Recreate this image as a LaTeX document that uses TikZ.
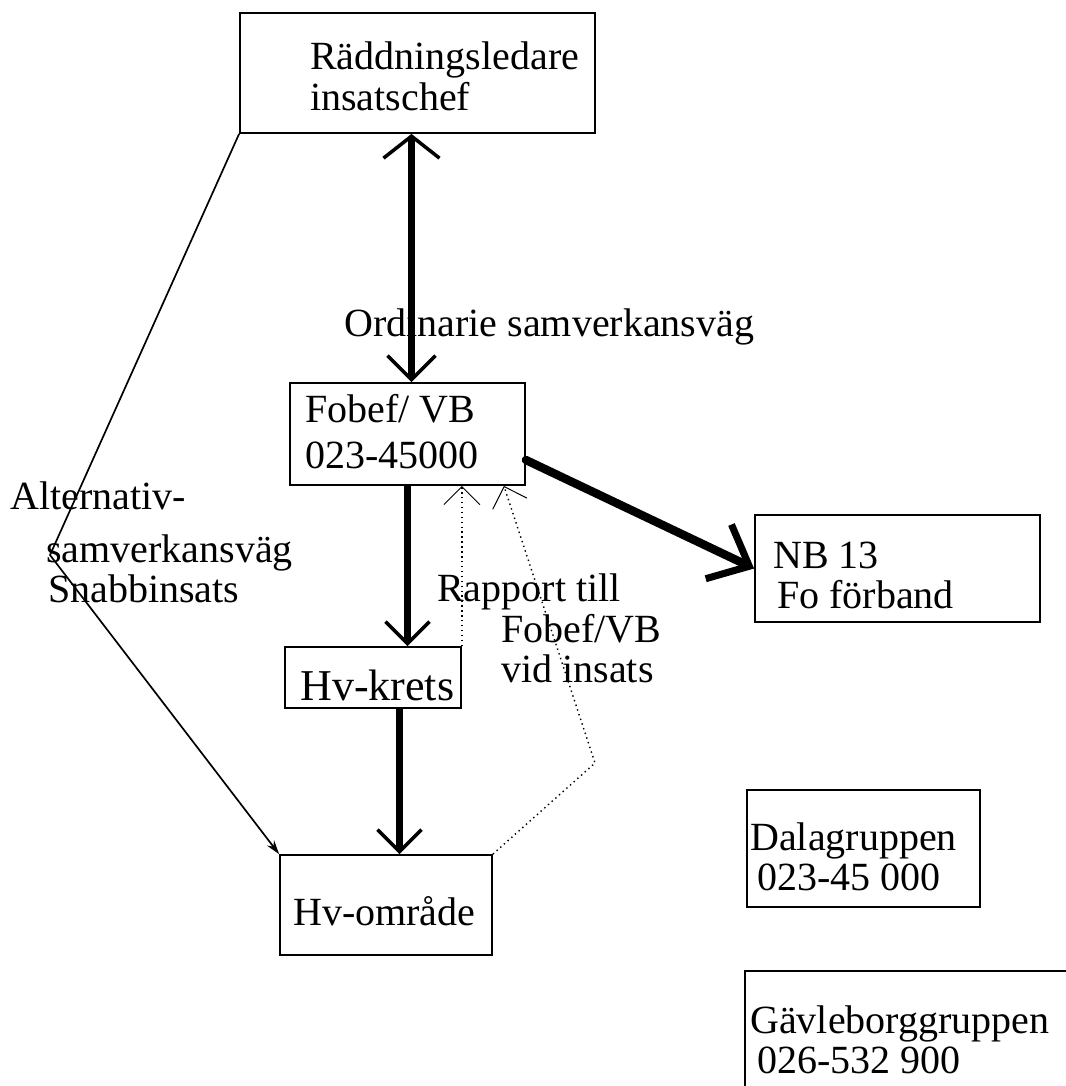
\documentclass[tikz,border=0pt]{standalone}
\usepackage{fontspec}
\setmainfont{Liberation Serif}
\usetikzlibrary{arrows.meta,calc,fit}

\tikzset{
  box/.style={draw, line width=1.3pt, inner sep=0pt},
  txt/.style={font=\fontsize{28.45}{28.45}\selectfont, align=left, inner sep=0pt, anchor=base west},
  mainarr/.style={line width=5.5pt, -{Straight Barb[length=0.55cm, width=1.1cm, line width=2.5pt]}},
  mainboth/.style={line width=5.5pt, {Straight Barb[length=0.6cm, width=1.2cm, line width=2.5pt]}-{Straight Barb[length=0.55cm, width=1.4cm, line width=2.5pt]}},
  nbarr/.style={line width=6pt, line cap=round, -{Straight Barb[length=0.85cm, width=1.5cm, line width=5pt]}},
  altarr/.style={line width=1.2pt, -{Stealth[length=0.35cm, width=0.22cm]}},
  rapparr/.style={line width=1pt, dash pattern=on 1pt off 2.5pt, -{Straight Barb[length=0.45cm, width=0.9cm, line width=0.7pt]}}
}

\begin{document}
\begin{tikzpicture}[x=0.025cm, y=-0.025cm]
\useasboundingbox (0,0) rectangle (1066,1086);
\clip (0,0) rectangle (1066,1086);

% boxes
\node[box, fit={(240,13) (595,133)}] (radd) {};
\node[box, fit={(290,383) (525,485)}] (fobef) {};
\node[box, fit={(755,515) (1040,622)}] (nb) {};
\node[box, fit={(285,647) (461,708)}] (krets) {};
\node[box, fit={(280,855) (492,955)}] (omr) {};
\node[box, fit={(747,790) (980,907)}] (dala) {};
\node[box, fit={(745,971) (1120,1140)}] (gavle) {};

% texts (multi-line ones sit on their last baseline)
\node[txt] (raddtxt) at (310,110) {Räddningsledare\\insatschef};
\node[txt] (fobeftxt) at (305,468) {Fobef/ VB\\[0.15cm]023-45000};
\node[txt] (nbtxt) at (773,608) {NB 13\\\hspace*{0.1cm}Fo förband};
\node[txt, font=\fontsize{31.3}{31.3}\selectfont] (kretstxt) at (300,700) {Hv-krets};
\node[txt] (omrtxt) at (293,925) {Hv-område};
\node[txt] (dalatxt) at (750,890) {Dalagruppen\\\hspace*{0.18cm}023-45 000};
\node[txt] (gavletxt) at (750,1073) {Gävleborggruppen\\\hspace*{0.18cm}026-532 900};
\node[txt] (ordtxt) at (344,336) {Ordinarie samverkansväg};
\node[txt] (alttxt) at (10,602) {Alternativ-\\[0.3cm]\hspace*{0.9cm}samverkansväg\\\hspace*{0.95cm}Snabbinsats};
\node[txt] (rapptxt) at (437,682) {Rapport till\\\hspace*{1.6cm}Fobef/VB\\\hspace*{1.6cm}vid insats};

% connectors
\coordinate (altbend) at (50,555);
\coordinate (rappbend) at (595,763);
\draw[mainboth] ([xshift=0.1cm]fobef.north) -- ([xshift=0.1cm]fobef.north |- radd.south);
\draw[mainarr] (fobef.south) -- (fobef.south |- krets.north);
\draw[mainarr] ([xshift=-0.2cm]fobef.south |- krets.south) -- ([xshift=-0.2cm]fobef.south |- omr.north);
\draw[nbarr] ([yshift=-0.65cm]fobef.east) -- (nb.west);
\draw[altarr] (radd.south west) -- (altbend) -- (omr.north west);
\draw[rapparr] (krets.north east) -- (krets.north east |- fobef.south);
\draw[rapparr] (omr.north east) -- (rappbend) -- ($(fobef.south east)+(-22,0)$);
\end{tikzpicture}
\end{document}
